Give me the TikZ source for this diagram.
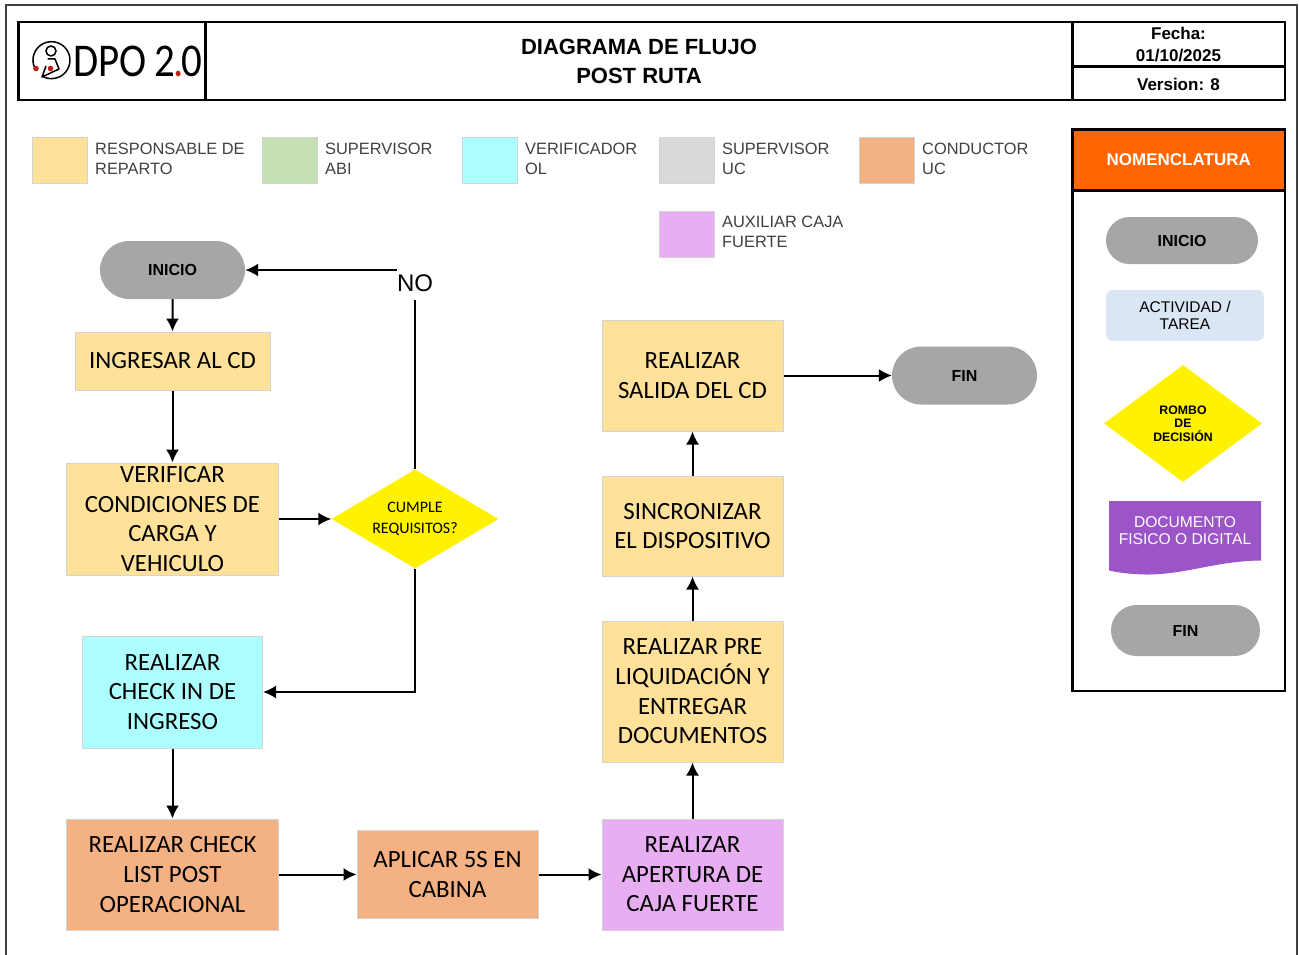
\documentclass[tikz,border=0pt]{standalone}
\usepackage{fontspec}
\setmainfont{Liberation Sans}
\newfontfamily\calibrifont{Carlito}
\newfontfamily\logofont[FakeStretch=0.87]{Carlito}
\usetikzlibrary{arrows.meta,positioning,shapes.geometric,shapes.misc}

\definecolor{repartoC}{HTML}{FFE199}
\definecolor{abiC}{HTML}{C5E0B4}
\definecolor{verifC}{HTML}{ADFFFF}
\definecolor{supucC}{HTML}{D9D9D9}
\definecolor{condC}{HTML}{F4B183}
\definecolor{cajaC}{HTML}{E8AEF2}
\definecolor{pillC}{HTML}{A6A6A6}
\definecolor{tareaC}{HTML}{DAE6F3}
\definecolor{docC}{HTML}{9B55C9}
\definecolor{naranjaC}{HTML}{FF6600}
\definecolor{edgeC}{HTML}{D4D4D4}
\definecolor{textoC}{HTML}{404040}
\definecolor{rojoC}{HTML}{C0201A}

\tikzset{
  procbox/.style={draw=edgeC,line width=1pt,inner sep=0pt,align=center,
    font=\calibrifont\fontsize{24.8}{29.6}\selectfont},
  pill/.style={rounded rectangle,fill=pillC,inner sep=0pt,align=center,
    font=\bfseries\fontsize{16}{18}\selectfont},
  rombo/.style={diamond,fill=yellow,inner sep=0pt,align=center},
  swatch/.style={draw=edgeC,line width=1pt,minimum width=55pt,minimum height=46pt,inner sep=0pt},
  swatchtext/.style={right,inner sep=0pt,align=left,text=textoC,
    font=\fontsize{16.4}{20}\selectfont},
  celda/.style={inner sep=0pt,align=center,font=\bfseries\fontsize{17}{22}\selectfont},
  flecha/.style={draw=black,line width=2pt,-{Latex[length=13pt,width=13pt]}},
  marco/.style={draw=black,line width=2.6pt}
}

\begin{document}
\begin{tikzpicture}[x=1pt,y=-1pt]
\useasboundingbox (0,0) rectangle (1299,955);
\draw[line width=1.2pt,draw=black!75] (6,955) -- (6,5) -- (1297,5) -- (1297,955);

% Encabezado
\draw[marco] (18.5,22) rectangle (1285,100);
\draw[marco] (205.5,22) -- (205.5,100);
\draw[marco] (1072.5,22) -- (1072.5,100);
\draw[marco] (1072.5,66.5) -- (1285,66.5);
\node[inner sep=0pt,align=center,font=\bfseries\fontsize{22}{29}\selectfont] (titulo) at (639,61.5) {DIAGRAMA DE FLUJO\\POST RUTA};
\node[celda] (fecha) at (1178.5,44.5) {Fecha:\\01/10/2025};
\node[celda] (version) at (1178.5,84) {Version: 8};

% Logo
\draw[line width=1.5pt] (34.7,68) arc (155:480:18.5);
\draw[line width=1.5pt] (51,51) circle (5);
\draw[line width=1.5pt,line join=round] (47.5,59) -- (55,59) -- (59,69) -- (42,77) -- (46,66);
\fill[rojoC] (36,68.5) circle (2.8);
\fill[rojoC] (50.5,68.5) circle (2.8);
\node[inner sep=0pt,anchor=west,font=\logofont\fontsize{47}{47}\selectfont] (logo) at (73,61) {DPO\,2\kern-2pt\textcolor{rojoC}{.}\kern-2pt0};

% Leyenda
\foreach \x/\y/\col/\nom/\txt in {
  59.5/161/repartoC/lgA/{RESPONSABLE DE\\REPARTO},
  289.5/161/abiC/lgB/{SUPERVISOR\\ABI},
  489.5/161/verifC/lgC/{VERIFICADOR\\OL},
  686.5/161/supucC/lgD/{SUPERVISOR\\UC},
  886.5/161/condC/lgE/{CONDUCTOR\\UC},
  686.5/234/cajaC/lgF/{AUXILIAR CAJA\\FUERTE}} {
  \node[swatch,fill=\col] (\nom) at (\x,\y) {};
  \node[swatchtext] (\nom t) at (\x+35.5,\y-2.5) {\txt};
}

% Flujo
\node[pill,minimum width=145pt,minimum height=58pt] (inicio) at (172.5,270) {INICIO};
\node[procbox,fill=repartoC,minimum width=195pt,minimum height=58pt] (ingresar) at (172.5,361) {INGRESAR AL CD};
\node[procbox,fill=repartoC,minimum width=212pt,minimum height=112pt] (verificar) at (172.5,519) {VERIFICAR\\CONDICIONES DE\\CARGA Y\\VEHICULO};
\node[rombo,aspect=1.687,minimum width=167pt,minimum height=99pt,font=\calibrifont\fontsize{16}{21}\selectfont] (cumple) at (415,519) {CUMPLE\\REQUISITOS?};
\node[inner sep=0pt,font=\fontsize{24}{24}\selectfont] (no) at (415,283.5) {NO};
\node[procbox,fill=verifC,minimum width=180pt,minimum height=112pt] (checkin) at (172.5,692) {REALIZAR\\CHECK IN DE\\INGRESO};
\node[procbox,fill=condC,minimum width=212pt,minimum height=111pt] (checklist) at (172.5,874.5) {REALIZAR CHECK\\LIST POST\\OPERACIONAL};
\node[procbox,fill=condC,minimum width=181pt,minimum height=88pt] (cabina) at (447.5,874.5) {APLICAR 5S EN\\CABINA};
\node[procbox,fill=cajaC,minimum width=181pt,minimum height=111pt] (caja) at (692.5,874.5) {REALIZAR\\APERTURA DE\\CAJA FUERTE};
\node[procbox,fill=repartoC,minimum width=181pt,minimum height=141pt] (preliq) at (692.5,691.5) {REALIZAR PRE\\LIQUIDACIÓN Y\\ENTREGAR\\DOCUMENTOS};
\node[procbox,fill=repartoC,minimum width=181pt,minimum height=100pt] (sincro) at (692.5,526) {SINCRONIZAR\\EL DISPOSITIVO};
\node[procbox,fill=repartoC,minimum width=181pt,minimum height=111pt] (salida) at (692.5,375.5) {REALIZAR\\SALIDA DEL CD};
\node[pill,minimum width=145pt,minimum height=58pt] (fin) at (964.5,375.5) {FIN};

\draw[flecha] (inicio) -- (ingresar);
\draw[flecha] (ingresar) -- (verificar);
\draw[flecha] (verificar) -- (cumple);
\draw[line width=2pt,shorten >=8pt] (cumple.north) -- (no.south);
\draw[flecha] (inicio.east -| no.west) -- (inicio.east);
\draw[flecha] (cumple.south) |- (checkin.east);
\draw[flecha] (checkin) -- (checklist);
\draw[flecha] (checklist) -- (cabina);
\draw[flecha] (cabina) -- (caja);
\draw[flecha] (caja) -- (preliq);
\draw[flecha] (preliq) -- (sincro);
\draw[flecha] (sincro) -- (salida);
\draw[flecha] (salida) -- (fin);

% Nomenclatura
\draw[marco] (1072.5,129.5) rectangle (1285,691);
\node[draw=black,line width=2.6pt,fill=naranjaC,text=white,inner sep=0pt,minimum width=212.5pt,minimum height=61pt,font=\bfseries\fontsize{17}{20}\selectfont] (nomen) at (1178.75,160) {NOMENCLATURA};
\node[pill,minimum width=152pt,minimum height=47pt] (ninicio) at (1182,240.5) {INICIO};
\node[fill=tareaC,rounded corners=7pt,inner sep=0pt,minimum width=158pt,minimum height=51pt,align=center,font=\fontsize{15.5}{17}\selectfont] (ntarea) at (1185,315.5) {ACTIVIDAD /\\TAREA};
\node[rombo,aspect=1.35,minimum width=158pt,minimum height=117pt,font=\bfseries\fontsize{12.3}{13.5}\selectfont] (nrombo) at (1183,423.5) {ROMBO\\DE\\DECISIÓN};
\fill[docC] (1109,501) -- (1261,501) -- (1261,560.5) .. controls (1215,561) and (1185,575) .. (1145,574.5) .. controls (1130,574) and (1120,573) .. (1109,570.5) -- cycle;
\node[inner sep=0pt,align=center,text=white,font=\fontsize{15.6}{17}\selectfont] (ndoc) at (1185,530.5) {DOCUMENTO\\FISICO O DIGITAL};
\node[pill,minimum width=149pt,minimum height=51pt] (nfin) at (1185.5,630.5) {FIN};
\end{tikzpicture}
\end{document}
